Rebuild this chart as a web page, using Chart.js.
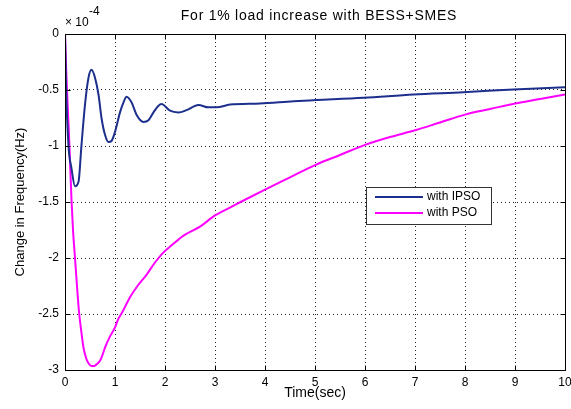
<!DOCTYPE html>
<html>
<head>
<meta charset="utf-8">
<script src="https://cdn.jsdelivr.net/npm/chart.js@4/dist/chart.umd.min.js"></script>
<style>
  body { margin: 0; background: #fff; }
  canvas { display: block; }
</style>
</head>
<body>
<canvas id="freqChart" width="571" height="409"></canvas>
<script>
// values in units of 1e-4 Hz
const ipsoTime = [0, 0.02, 0.07, 0.13, 0.2, 0.27, 0.33, 0.4, 0.47, 0.53, 0.6, 0.67, 0.73, 0.8, 0.87, 0.93, 1.0, 1.1, 1.17, 1.23, 1.33, 1.43, 1.57, 1.67, 1.77, 1.87, 1.93, 2.1, 2.27, 2.43, 2.67, 2.87, 3.03, 3.3, 3.9, 4.57, 5.03, 5.97, 6.97, 7.97, 8.97, 10];
const ipsoValue = [0, -0.45, -1.0, -1.2, -1.36, -1.32, -0.99, -0.63, -0.39, -0.32, -0.39, -0.54, -0.75, -0.9, -0.965, -0.955, -0.875, -0.7, -0.61, -0.56, -0.61, -0.72, -0.785, -0.77, -0.7, -0.64, -0.625, -0.685, -0.7, -0.68, -0.635, -0.655, -0.655, -0.63, -0.62, -0.6, -0.59, -0.57, -0.54, -0.52, -0.495, -0.475];

const psoTime = [0, 0.03, 0.08, 0.13, 0.16, 0.2, 0.24, 0.28, 0.33, 0.37, 0.42, 0.47, 0.53, 0.58, 0.63, 0.68, 0.73, 0.8, 0.9, 1.0, 1.06, 1.15, 1.3, 1.45, 1.63, 1.8, 1.97, 2.15, 2.37, 2.7, 3.0, 3.3, 3.6, 4.0, 4.5, 5.0, 5.5, 6.0, 6.5, 7.0, 7.5, 8.0, 8.5, 9.0, 9.5, 10];
const psoValue = [0, -0.4, -0.9, -1.48, -1.75, -2.0, -2.25, -2.48, -2.67, -2.8, -2.89, -2.94, -2.965, -2.965, -2.95, -2.93, -2.89, -2.8, -2.7, -2.62, -2.55, -2.48, -2.35, -2.25, -2.15, -2.04, -1.95, -1.88, -1.8, -1.72, -1.62, -1.55, -1.48, -1.39, -1.28, -1.17, -1.08, -0.99, -0.92, -0.86, -0.79, -0.72, -0.67, -0.62, -0.58, -0.54];

const xTicks = [0, 1, 2, 3, 4, 5, 6, 7, 8, 9, 10];
const yTicks = [-3, -2.5, -2, -1.5, -1, -0.5, 0];

const seriesLabels = ['with IPSO', 'with PSO'];
const seriesColors = ['#1c2f8c', '#ff00ff'];

const titleText = 'For 1% load increase with BESS+SMES';
const font = 'Liberation Sans, Arial, sans-serif';

const toPoints = (xs, ys) => xs.map((x, i) => ({x: x, y: ys[i]}));

// frame, inward ticks, exponent note, title and legend box
const matlabLook = {
  id: 'matlabLook',
  afterDraw(chart) {
    const ctx = chart.ctx;
    const a = chart.chartArea;
    const xs = chart.scales.x;
    const ys = chart.scales.y;
    const L = Math.round(a.left) + 0.5, R = Math.round(a.right) + 0.5;
    const T = Math.round(a.top) + 0.5, B = Math.round(a.bottom) + 0.5;
    ctx.save();
    ctx.strokeStyle = '#000';
    ctx.lineWidth = 1;
    ctx.beginPath();
    xTicks.forEach(v => {
      const p = Math.round(xs.getPixelForValue(v)) + 0.5;
      ctx.moveTo(p, B); ctx.lineTo(p, B - 5);
      ctx.moveTo(p, T); ctx.lineTo(p, T + 5);
    });
    yTicks.forEach(v => {
      const p = Math.round(ys.getPixelForValue(v)) + 0.5;
      ctx.moveTo(L, p); ctx.lineTo(L + 5, p);
      ctx.moveTo(R, p); ctx.lineTo(R - 5, p);
    });
    ctx.stroke();
    ctx.strokeRect(L, T, R - L, B - T);

    ctx.fillStyle = '#000';
    ctx.textBaseline = 'middle';
    ctx.textAlign = 'left';
    ctx.font = '12px ' + font;
    ctx.fillText('\u00d7 10', a.left, 23);
    ctx.fillText('-4', a.left + 24, 12);

    ctx.textAlign = 'center';
    ctx.font = '14px ' + font;
    if ('letterSpacing' in ctx) ctx.letterSpacing = '0.75px';
    ctx.fillText(titleText, (a.left + a.right) / 2 + 4, 16);
    if ('letterSpacing' in ctx) ctx.letterSpacing = '0px';

    // legend
    const bx = 366.5, by = 187.5, bw = 125, bh = 37;
    ctx.fillStyle = '#fff';
    ctx.fillRect(bx, by, bw, bh);
    ctx.strokeStyle = '#333';
    ctx.strokeRect(bx, by, bw, bh);
    ctx.textAlign = 'left';
    ctx.font = '12px ' + font;
    seriesLabels.forEach((lab, i) => {
      const ly = 197 + i * 16;
      ctx.strokeStyle = seriesColors[i];
      ctx.lineWidth = 2;
      ctx.beginPath();
      ctx.moveTo(375, ly); ctx.lineTo(423, ly);
      ctx.stroke();
      ctx.fillStyle = '#000';
      ctx.fillText(lab, 427, ly);
    });
    ctx.restore();
  }
};

new Chart(document.getElementById('freqChart'), {
  type: 'line',
  data: {
    datasets: [
      {
        label: seriesLabels[0],
        data: toPoints(ipsoTime, ipsoValue),
        borderColor: seriesColors[0],
        borderWidth: 2,
        pointRadius: 0,
        cubicInterpolationMode: 'monotone',
      },
      {
        label: seriesLabels[1],
        data: toPoints(psoTime, psoValue),
        borderColor: seriesColors[1],
        borderWidth: 2,
        pointRadius: 0,
        cubicInterpolationMode: 'monotone',
      },
    ],
  },
  options: {
    responsive: false,
    animation: false,
    layout: {padding: {top: 34, right: 6, bottom: 0, left: 0}},
    plugins: {
      legend: {display: false},
      title: {display: false},
      tooltip: {enabled: false},
    },
    scales: {
      x: {
        type: 'linear',
        min: 0,
        max: 10,
        afterBuildTicks: s => { s.ticks = xTicks.map(v => ({value: v})); },
        afterFit: s => { s.height = 39; s.paddingLeft = 0; s.paddingRight = 0; },
        grid: {color: '#222', drawTicks: false},
        border: {display: false, dash: [1, 3]},
        ticks: {color: '#000', padding: 5, maxRotation: 0, font: {family: font, size: 12}},
        title: {display: true, text: 'Time(sec)', color: '#000', font: {family: font, size: 14}, padding: {top: 0, bottom: 7}},
      },
      y: {
        min: -3,
        max: 0,
        afterBuildTicks: s => { s.ticks = yTicks.map(v => ({value: v})); },
        afterFit: s => { s.width = 65; s.paddingTop = 0; s.paddingBottom = 0; },
        grid: {color: '#222', drawTicks: false},
        border: {display: false, dash: [1, 3]},
        ticks: {color: '#000', padding: 6, font: {family: font, size: 12}, callback: v => String(v)},
        title: {display: true, text: 'Change in Frequency(Hz)', color: '#000', font: {family: font, size: 13}, padding: {top: 13, bottom: 0}},
      },
    },
  },
  plugins: [matlabLook],
});
</script>
</body>
</html>
